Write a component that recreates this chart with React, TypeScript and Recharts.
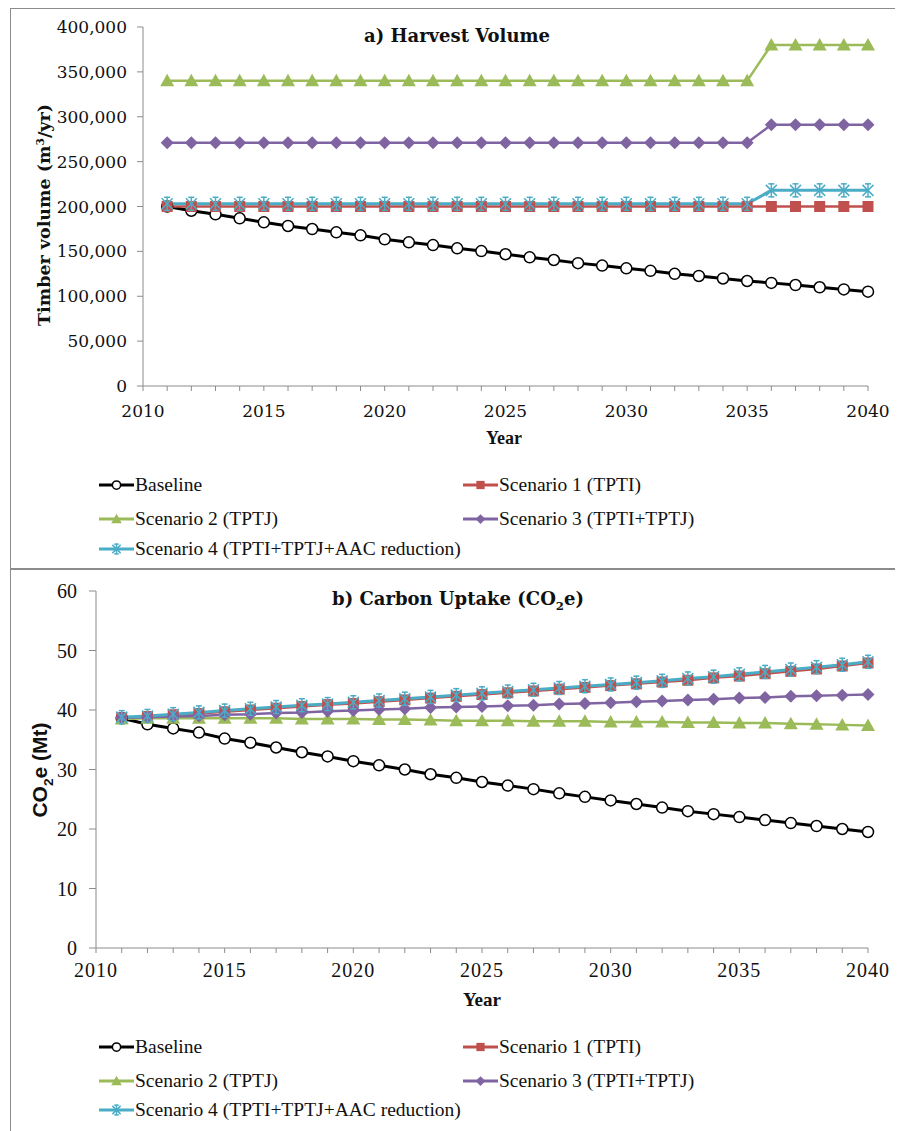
import React from 'react';
import { LineChart, Line, XAxis, YAxis, Legend } from 'recharts';

const years = [2011, 2012, 2013, 2014, 2015, 2016, 2017, 2018, 2019, 2020, 2021, 2022, 2023, 2024, 2025, 2026, 2027, 2028, 2029, 2030, 2031, 2032, 2033, 2034, 2035, 2036, 2037, 2038, 2039, 2040];
const xTicks = [2010, 2011, 2012, 2013, 2014, 2015, 2016, 2017, 2018, 2019, 2020, 2021, 2022, 2023, 2024, 2025, 2026, 2027, 2028, 2029, 2030, 2031, 2032, 2033, 2034, 2035, 2036, 2037, 2038, 2039, 2040];
const xLabelYears = [2010, 2015, 2020, 2025, 2030, 2035, 2040];

const harvestTicks = [0, 50000, 100000, 150000, 200000, 250000, 300000, 350000, 400000];
const carbonTicks = [0, 10, 20, 30, 40, 50, 60];

// a) Harvest volume (m3/yr)
const harvestBaseline = [200000, 195300, 191300, 186800, 182400, 178300, 174900, 171200, 167900, 163400, 160100, 157000, 153400, 150300, 146800, 143400, 140400, 136900, 134200, 131100, 128300, 125000, 122600, 119800, 117000, 114900, 112500, 110000, 107600, 105100];
const harvestS1 = [200000, 200000, 200000, 200000, 200000, 200000, 200000, 200000, 200000, 200000, 200000, 200000, 200000, 200000, 200000, 200000, 200000, 200000, 200000, 200000, 200000, 200000, 200000, 200000, 200000, 200000, 200000, 200000, 200000, 200000];
const harvestS2 = [340000, 340000, 340000, 340000, 340000, 340000, 340000, 340000, 340000, 340000, 340000, 340000, 340000, 340000, 340000, 340000, 340000, 340000, 340000, 340000, 340000, 340000, 340000, 340000, 340000, 380000, 380000, 380000, 380000, 380000];
const harvestS3 = [271000, 271000, 271000, 271000, 271000, 271000, 271000, 271000, 271000, 271000, 271000, 271000, 271000, 271000, 271000, 271000, 271000, 271000, 271000, 271000, 271000, 271000, 271000, 271000, 271000, 291000, 291000, 291000, 291000, 291000];
const harvestS4 = [203000, 203000, 203000, 203000, 203000, 203000, 203000, 203000, 203000, 203000, 203000, 203000, 203000, 203000, 203000, 203000, 203000, 203000, 203000, 203000, 203000, 203000, 203000, 203000, 203000, 218000, 218000, 218000, 218000, 218000];

// b) Carbon uptake (Mt CO2e)
const carbonBaseline = [38.6, 37.6, 36.9, 36.2, 35.2, 34.5, 33.7, 32.9, 32.2, 31.4, 30.7, 30.0, 29.2, 28.6, 27.9, 27.3, 26.7, 26.0, 25.4, 24.8, 24.2, 23.6, 23.0, 22.5, 22.0, 21.5, 21.0, 20.5, 20.0, 19.5];
const carbonS1 = [38.7, 38.9, 39.2, 39.4, 39.7, 40.0, 40.3, 40.6, 40.9, 41.1, 41.4, 41.7, 42.0, 42.3, 42.6, 42.9, 43.2, 43.5, 43.8, 44.1, 44.4, 44.7, 45.0, 45.4, 45.7, 46.1, 46.5, 46.9, 47.4, 47.9];
const carbonS2 = [38.5, 38.6, 38.6, 38.6, 38.6, 38.6, 38.6, 38.5, 38.5, 38.5, 38.4, 38.4, 38.3, 38.2, 38.2, 38.2, 38.1, 38.1, 38.1, 38.0, 38.0, 38.0, 37.9, 37.9, 37.8, 37.8, 37.7, 37.6, 37.5, 37.4];
const carbonS3 = [38.7, 38.8, 38.9, 39.0, 39.2, 39.3, 39.5, 39.6, 39.8, 39.9, 40.1, 40.2, 40.4, 40.5, 40.6, 40.7, 40.8, 41.0, 41.1, 41.2, 41.4, 41.5, 41.7, 41.8, 42.0, 42.1, 42.3, 42.4, 42.5, 42.6];
const carbonS4 = [38.8, 39.0, 39.3, 39.6, 39.9, 40.2, 40.5, 40.8, 41.0, 41.3, 41.6, 41.9, 42.2, 42.5, 42.8, 43.1, 43.4, 43.7, 44.0, 44.3, 44.6, 44.9, 45.3, 45.6, 46.0, 46.4, 46.8, 47.2, 47.6, 48.1];

const seriesMeta = [
  { key: 'baseline', name: 'Baseline', color: '#000000', marker: 'circle', width: 3 },
  { key: 's1', name: 'Scenario 1 (TPTI)', color: '#C0504D', marker: 'square', width: 2.5 },
  { key: 's2', name: 'Scenario 2 (TPTJ)', color: '#9BBB59', marker: 'triangle', width: 2.5 },
  { key: 's3', name: 'Scenario 3 (TPTI+TPTJ)', color: '#8064A2', marker: 'diamond', width: 2.5 },
  { key: 's4', name: 'Scenario 4 (TPTI+TPTJ+AAC reduction)', color: '#4BACC6', marker: 'star', width: 3 },
];

const harvestData = years.map((year, i) => ({
  year,
  baseline: harvestBaseline[i],
  s1: harvestS1[i],
  s2: harvestS2[i],
  s3: harvestS3[i],
  s4: harvestS4[i],
}));

const carbonData = years.map((year, i) => ({
  year,
  baseline: carbonBaseline[i],
  s1: carbonS1[i],
  s2: carbonS2[i],
  s3: carbonS3[i],
  s4: carbonS4[i],
}));

const AXIS = '#8c8c8c';

function markerShape(kind: string, color: string, cx: number, cy: number, s = 1, key?: any) {
  switch (kind) {
    case 'circle':
      return <circle key={key} cx={cx} cy={cy} r={5.5 * s} fill="#fff" stroke="#000" strokeWidth={1.5} />;
    case 'square':
      return <rect key={key} x={cx - 5.5 * s} y={cy - 5.5 * s} width={11 * s} height={11 * s} fill={color} />;
    case 'triangle':
      return (
        <polygon
          key={key}
          points={`${cx},${cy - 7 * s} ${cx + 7 * s},${cy + 5.5 * s} ${cx - 7 * s},${cy + 5.5 * s}`}
          fill={color}
        />
      );
    case 'diamond':
      return (
        <polygon
          key={key}
          points={`${cx},${cy - 6.5 * s} ${cx + 6.5 * s},${cy} ${cx},${cy + 6.5 * s} ${cx - 6.5 * s},${cy}`}
          fill={color}
        />
      );
    case 'star':
    default:
      return (
        <g key={key} stroke={color} strokeWidth={1.5}>
          <line x1={cx - 5.5 * s} y1={cy - 5.5 * s} x2={cx + 5.5 * s} y2={cy + 5.5 * s} />
          <line x1={cx + 5.5 * s} y1={cy - 5.5 * s} x2={cx - 5.5 * s} y2={cy + 5.5 * s} />
          <line x1={cx} y1={cy - 7 * s} x2={cx} y2={cy + 7 * s} />
          <line x1={cx - 3 * s} y1={cy - 6.5 * s} x2={cx + 3 * s} y2={cy - 6.5 * s} />
          <line x1={cx - 3 * s} y1={cy + 6.5 * s} x2={cx + 3 * s} y2={cy + 6.5 * s} />
        </g>
      );
  }
}

const makeDot = (kind: string, color: string) => (props: any) => {
  const { cx, cy, index } = props;
  if (cx == null || cy == null) return <g key={`e${index}`} />;
  return markerShape(kind, color, cx, cy, 1, `d${index}`);
};

const makeXTick = (fontFamily: string, fontSize: number, dy: number, letterSpacing = 0) => (props: any) => {
  const { x, y, payload } = props;
  if (!xLabelYears.includes(payload.value)) return <g />;
  return (
    <text x={x} y={y} dy={dy} textAnchor="middle" fill="#111" fontFamily={fontFamily} fontSize={fontSize} letterSpacing={letterSpacing}>
      {payload.value}
    </text>
  );
};

const fmtThousands = (v: number) => String(v).replace(/\B(?=(\d{3})+(?!\d))/g, ',');

const legendRows = [
  { col: 0, row: 0, idx: 0 },
  { col: 1, row: 0, idx: 1 },
  { col: 0, row: 1, idx: 2 },
  { col: 1, row: 1, idx: 3 },
  { col: 0, row: 2, idx: 4 },
];

const makeLegend = (rowYs: number[]) => () => (
  <div style={{ position: 'relative', width: 700, height: 110 }}>
    {legendRows.map((r) => {
      const m = seriesMeta[r.idx];
      return (
        <div
          key={m.key}
          style={{
            position: 'absolute',
            left: r.col === 0 ? 0 : 364,
            top: rowYs[r.row] - 11,
            height: 22,
            display: 'flex',
            alignItems: 'center',
            whiteSpace: 'nowrap',
            fontFamily: '"Liberation Serif", serif',
            fontSize: 19.5,
            color: '#111',
          }}
        >
          <svg width={37} height={20} style={{ display: 'block' }}>
            <line x1={1} y1={10} x2={36} y2={10} stroke={m.color} strokeWidth={3} />
            {markerShape(m.marker, m.color, 18.5, 10, 0.75)}
          </svg>
          <span>{m.name}</span>
        </div>
      );
    })}
  </div>
);

const Panel = ({ top, height }: { top: number; height: number }) => (
  <div
    style={{
      position: 'absolute',
      left: 2,
      top,
      width: 920,
      height,
      boxSizing: 'border-box',
      border: '1.5px solid #8c8c8c',
    }}
  />
);

const textAbs = (style: React.CSSProperties) => ({ position: 'absolute' as const, whiteSpace: 'nowrap' as const, ...style });

export default function App() {
  return (
    <div style={{ position: 'relative', width: 895, height: 1123, overflow: 'hidden', background: '#fff' }}>
      <Panel top={0} height={561} />
      <Panel top={561} height={600} />

      {/* Chart a */}
      <div style={{ position: 'absolute', left: 0, top: 0 }}>
        <LineChart width={895} height={558} data={harvestData} margin={{ top: 19, right: 35, left: 0, bottom: 140 }}>
          <XAxis
            dataKey="year"
            type="number"
            domain={[2010, 2040]}
            ticks={xTicks}
            interval={0}
            stroke={AXIS}
            tickSize={5}
            tickMargin={2}
            height={40}
            tick={makeXTick('"DejaVu Serif", serif', 17, 23.5)}
          />
          <YAxis
            type="number"
            domain={[0, 400000]}
            ticks={harvestTicks}
            interval={0}
            width={135}
            stroke={AXIS}
            tickSize={6}
            tickMargin={10}
            tickFormatter={fmtThousands}
            tick={{ fill: '#111', fontSize: 17, fontFamily: '"DejaVu Serif", serif' }}
          />
          {seriesMeta.map((m) => (
            <Line
              key={m.key}
              type="linear"
              dataKey={m.key}
              name={m.name}
              stroke={m.color}
              strokeWidth={m.width}
              dot={makeDot(m.marker, m.color)}
              activeDot={false}
              isAnimationActive={false}
            />
          ))}
          <Legend
            layout="vertical"
            align="center"
            verticalAlign="middle"
            wrapperStyle={{ left: 90, top: 460, width: 720, height: 110 }}
            content={makeLegend([17, 51, 81])}
          />
        </LineChart>
      </div>

      {/* Chart b */}
      <div style={{ position: 'absolute', left: 0, top: 562 }}>
        <LineChart width={895} height={561} data={carbonData} margin={{ top: 21, right: 35, left: 0, bottom: 143 }}>
          <XAxis
            dataKey="year"
            type="number"
            domain={[2010, 2040]}
            ticks={xTicks}
            interval={0}
            stroke={AXIS}
            tickSize={5}
            tickMargin={2}
            height={40}
            tick={makeXTick('"Liberation Serif", serif', 20, 22, 1)}
          />
          <YAxis
            type="number"
            domain={[0, 60]}
            ticks={carbonTicks}
            interval={0}
            width={88}
            stroke={AXIS}
            tickSize={7}
            tickMargin={12}
            tick={{ fill: '#111', fontSize: 20, fontFamily: '"Liberation Serif", serif' }}
          />
          {seriesMeta.map((m) => (
            <Line
              key={m.key}
              type="linear"
              dataKey={m.key}
              name={m.name}
              stroke={m.color}
              strokeWidth={m.width}
              dot={makeDot(m.marker, m.color)}
              activeDot={false}
              isAnimationActive={false}
            />
          ))}
          <Legend
            layout="vertical"
            align="center"
            verticalAlign="middle"
            wrapperStyle={{ left: 90, top: 460, width: 720, height: 110 }}
            content={makeLegend([17, 51, 80])}
          />
        </LineChart>
      </div>

      {/* Titles and axis titles */}
      <div
        style={textAbs({
          left: 149,
          top: 17,
          width: 600,
          textAlign: 'center',
          fontFamily: '"DejaVu Serif", serif',
          fontWeight: 'bold',
          fontSize: 18,
          lineHeight: '21px',
          color: '#111',
        })}
      >
        a) Harvest Volume
      </div>
      <div
        style={textAbs({
          left: 150,
          top: 580,
          width: 600,
          textAlign: 'center',
          fontFamily: '"DejaVu Serif", serif',
          fontWeight: 'bold',
          fontSize: 18,
          lineHeight: '21px',
          color: '#111',
        })}
      >
        b) Carbon Uptake (CO<span style={{ fontSize: '0.65em', verticalAlign: 'sub' }}>2</span>e)
      </div>

      <div
        style={textAbs({
          left: 36,
          top: 207,
          transform: 'translate(-50%, -50%) rotate(-90deg)',
          fontFamily: '"DejaVu Serif", serif',
          fontWeight: 'bold',
          fontSize: 17.5,
          color: '#111',
        })}
      >
        Timber volume (m<span style={{ fontSize: '0.6em', verticalAlign: 'super' }}>3</span>/yr)
      </div>
      <div
        style={textAbs({
          left: 34,
          top: 762,
          transform: 'translate(-50%, -50%) rotate(-90deg)',
          fontFamily: '"Liberation Sans", sans-serif',
          fontWeight: 'bold',
          fontSize: 21,
          color: '#111',
        })}
      >
        CO<span style={{ fontSize: '0.65em', verticalAlign: 'sub' }}>2</span>e (Mt)
      </div>

      <div
        style={textAbs({
          left: 496,
          top: 430,
          transform: 'translate(-50%, -50%)',
          fontFamily: '"Liberation Serif", serif',
          fontWeight: 'bold',
          fontSize: 18,
          color: '#111',
        })}
      >
        Year
      </div>
      <div
        style={textAbs({
          left: 474,
          top: 992,
          transform: 'translate(-50%, -50%)',
          fontFamily: '"Liberation Serif", serif',
          fontWeight: 'bold',
          fontSize: 19,
          color: '#111',
        })}
      >
        Year
      </div>
    </div>
  );
}
